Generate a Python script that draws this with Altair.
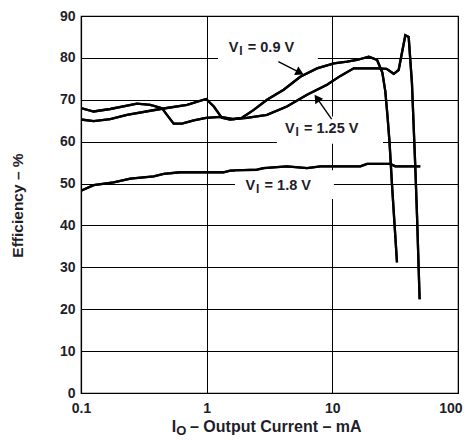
import altair as alt
import pandas as pd

# ---- data ----
x_09 = [0.1, 0.126, 0.171, 0.232, 0.428, 0.698, 0.99, 1.14, 1.32, 1.54, 1.91, 2.37, 3.02, 4.1,
        5.56, 7.55, 10.3, 13.1, 15.7, 19.5, 22.7, 25.0, 26.4, 27.5, 28.5, 29.8, 31.3, 32.7]
eff_09 = [65.3, 64.9, 65.4, 66.4, 67.8, 68.8, 70.2, 68.4, 65.7, 65.3, 65.7, 67.6, 70.0, 72.4,
          75.5, 77.5, 78.7, 79.1, 79.5, 80.3, 79.5, 76.5, 72.0, 66.0, 60.0, 50.0, 40.0, 31.2]

x_125 = [0.1, 0.126, 0.171, 0.279, 0.356, 0.441, 0.483, 0.546, 0.636, 0.789, 0.99, 1.29, 1.64,
         2.09, 3.02, 4.35, 6.29, 9.07, 11.6, 14.8, 22.7, 27.0, 30.8, 33.7, 38.1, 40.5, 43.0,
         45.7, 47.2, 49.5]
eff_125 = [68.0, 67.2, 67.8, 69.1, 68.8, 68.0, 66.4, 64.3, 64.3, 65.1, 65.7, 65.9, 65.4,
           65.7, 66.4, 68.4, 71.2, 73.6, 75.7, 77.5, 77.5, 77.4, 76.2, 77.1, 85.4, 85.0, 74.0,
           54.2, 42.3, 22.4]

x_18 = [0.1, 0.126, 0.182, 0.247, 0.379, 0.455, 0.617, 1.0, 1.36, 1.54, 2.51, 2.84, 4.35,
        6.29, 8.04, 16.7, 18.9, 29.0, 31.7, 50.1]
eff_18 = [48.3, 49.6, 50.3, 51.2, 51.7, 52.3, 52.7, 52.7, 52.7, 53.1, 53.3, 53.7, 54.1,
          53.7, 54.1, 54.1, 54.7, 54.7, 54.1, 54.1]

x_ticks = [0.1, 1, 10, 100]
y_ticks = [0, 10, 20, 30, 40, 50, 60, 70, 80, 90]

series_names = ["0.9 V", "1.25 V", "1.8 V"]
label_x = [1.50, 4.20, 2.04]
label_y = [82.3, 63.1, 49.3]
label_rest = ["= 0.9 V", "= 1.25 V", "= 1.8 V"]

# white boxes behind labels (x from, x to, y from, y to)
box_x1 = [1.23, 3.62, 1.68]
box_x2 = [7.67, 25.3, 10.3]
box_y1 = [79.3, 59.5, 46.3]
box_y2 = [85.0, 66.0, 53.2]

# arrows: start, arrowhead centre, arrow angle
arrow_x1 = [3.72, 9.87]
arrow_y1 = [79.1, 65.4]
arrow_x2 = [5.52, 7.54]
arrow_y2 = [76.5, 70.4]
arrow_angle = [26.5, 235.8]

INK = "#1e1e2a"
FONT = "Liberation Sans"

frames = []
for name, xs, ys in [("0.9 V", x_09, eff_09), ("1.25 V", x_125, eff_125), ("1.8 V", x_18, eff_18)]:
    frames.append(pd.DataFrame({"current": xs, "eff": ys, "series": name, "idx": range(len(xs))}))
curves = pd.concat(frames, ignore_index=True)

labels = pd.DataFrame({"x": label_x, "y": label_y, "rest": label_rest})
boxes = pd.DataFrame({"x1": box_x1, "x2": box_x2, "y1": box_y1, "y2": box_y2})
arrows = pd.DataFrame({"x1": arrow_x1, "y1": arrow_y1, "x2": arrow_x2, "y2": arrow_y2,
                       "angle": arrow_angle})

xscale = alt.Scale(type="log", domain=[0.1, 100], nice=False)
yscale = alt.Scale(domain=[0, 90], nice=False)

xaxis = alt.Axis(values=x_ticks, format="~g", title=None, grid=True, ticks=False,
                 labelPadding=8, labelFlush=False, labelOverlap=False, labelBound=False,
                 labelAlign={"condition": {"test": "datum.value >= 100", "value": "right"},
                             "value": "center"},
                 labelOffset={"condition": {"test": "datum.value >= 100", "value": 4},
                              "value": 0})
yaxis = alt.Axis(values=y_ticks, title="Efficiency – %", grid=True, ticks=False,
                 labelPadding=6, labelFlush=False, labelOverlap=False,
                 titleX=-63.5, titleY=189, titleAngle=270, titleAlign="center",
                 titleBaseline="middle")

lines = alt.Chart(curves).mark_line(color="black", strokeWidth=2.3, clip=True).encode(
    x=alt.X("current:Q", scale=xscale, axis=xaxis),
    y=alt.Y("eff:Q", scale=yscale, axis=yaxis),
    detail="series:N",
    order="idx:Q",
)

rects = alt.Chart(boxes).mark_rect(color="white").encode(
    x=alt.X("x1:Q", scale=xscale), x2="x2:Q",
    y=alt.Y("y1:Q", scale=yscale), y2="y2:Q",
)

arrow_lines = alt.Chart(arrows).mark_rule(color="black", strokeWidth=1.4).encode(
    x=alt.X("x1:Q", scale=xscale), x2="x2:Q",
    y=alt.Y("y1:Q", scale=yscale), y2="y2:Q",
)
arrow_heads = alt.Chart(arrows).mark_point(shape="triangle-right", filled=True, color="black",
                                           size=90, opacity=1).encode(
    x=alt.X("x2:Q", scale=xscale),
    y=alt.Y("y2:Q", scale=yscale),
    angle=alt.Angle("angle:Q", scale=None),
)

base_lab = alt.Chart(labels)
lab_v = base_lab.mark_text(text="V", align="left", baseline="middle", font=FONT,
                           fontWeight="bold", fontSize=14.5, color=INK).encode(
    x=alt.X("x:Q", scale=xscale), y=alt.Y("y:Q", scale=yscale))
lab_i = base_lab.mark_text(text="I", align="left", baseline="middle", font=FONT,
                           fontWeight="bold", fontSize=12, color=INK, dx=10.5, dy=3).encode(
    x=alt.X("x:Q", scale=xscale), y=alt.Y("y:Q", scale=yscale))
lab_rest = base_lab.mark_text(align="left", baseline="middle", font=FONT,
                              fontWeight="bold", fontSize=14.5, color=INK, dx=19).encode(
    x=alt.X("x:Q", scale=xscale), y=alt.Y("y:Q", scale=yscale), text="rest:N")

# x-axis title with subscript
xt_main = alt.Chart(pd.DataFrame({"t": ["I"]})).mark_text(
    align="left", baseline="middle", font=FONT, fontWeight="bold", fontSize=16, color=INK).encode(
    x=alt.value(90.7), y=alt.value(411), text="t:N")
xt_sub = alt.Chart(pd.DataFrame({"t": ["O"]})).mark_text(
    align="left", baseline="middle", font=FONT, fontWeight="bold", fontSize=13, color=INK).encode(
    x=alt.value(95.3), y=alt.value(415), text="t:N")
xt_rest = alt.Chart(pd.DataFrame({"t": ["– Output Current – mA"]})).mark_text(
    align="left", baseline="middle", font=FONT, fontWeight="bold", fontSize=16, color=INK).encode(
    x=alt.value(109), y=alt.value(411), text="t:N")

chart = alt.layer(
    lines, rects, lines, arrow_lines, arrow_heads, lab_v, lab_i, lab_rest,
    xt_main, xt_sub, xt_rest,
).properties(
    width=377, height=377,
    autosize=alt.AutoSizeParams(type="none"),
    padding={"left": 73, "top": 8, "right": 5, "bottom": 45},
).configure_view(
    stroke="black", strokeWidth=1.2
).configure_axis(
    domainColor="black", domainWidth=1.2, gridColor="black", gridWidth=1, gridOpacity=1,
    labelFont=FONT, labelFontWeight="bold", labelFontSize=14, labelColor=INK,
    titleFont=FONT, titleFontWeight="bold", titleFontSize=15.5, titleColor=INK,
)

chart.save("out.html", embed_options={"renderer": "svg", "actions": False})
